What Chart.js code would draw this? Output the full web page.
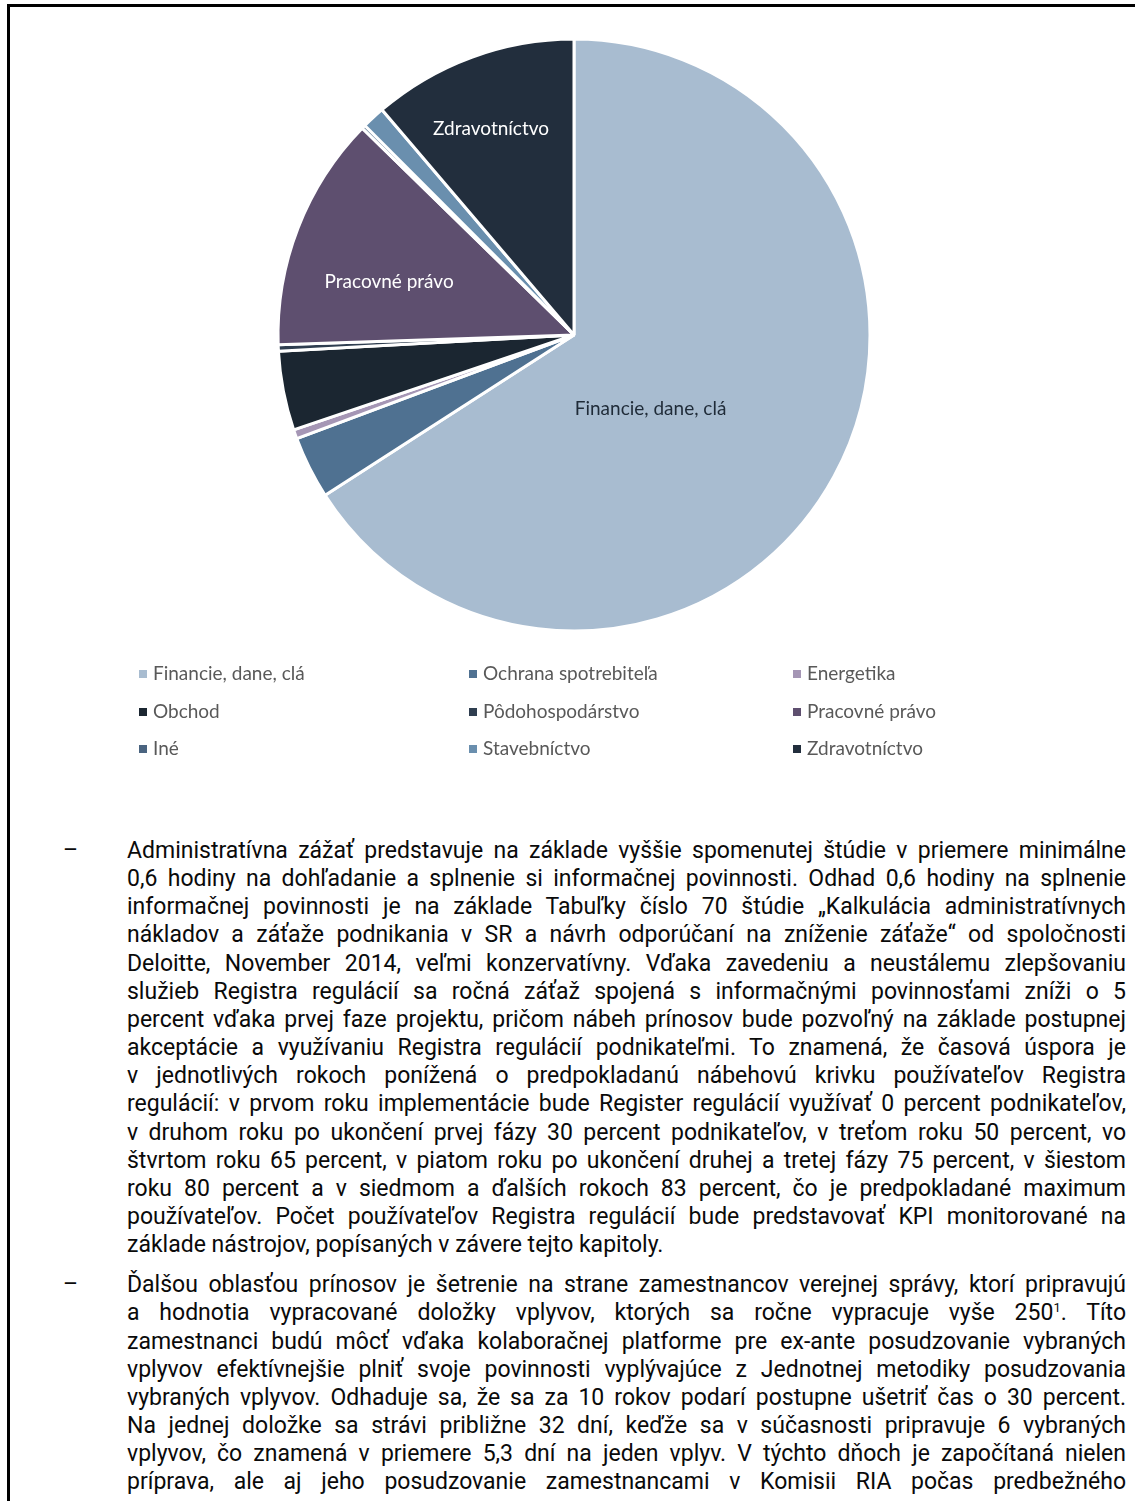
<!DOCTYPE html>
<html>
<head>
<meta charset="utf-8">
<script src="https://cdn.jsdelivr.net/npm/chart.js@4/dist/chart.umd.min.js"></script>
<style>
  html, body { margin: 0; padding: 0; background: #fff; }
  body { width: 1135px; height: 1501px; overflow: hidden; position: relative; }
  #frame { position: absolute; left: 7px; top: 4px; width: 1200px; height: 1600px;
           border-top: 3px solid #000; border-left: 3px solid #000; }
  #chartBox { position: absolute; left: 0; top: 0; width: 1135px; height: 670px; }
  #legend { position: absolute; left: 0; top: 654px; width: 1135px; height: 110px;
            font-family: Lato, sans-serif; font-size: 19px; color: #595959; }
  .lg { position: absolute; white-space: nowrap; line-height: 22px; }
  .lg i { display: inline-block; width: 8px; height: 8px; margin-right: 6px; vertical-align: 2px; }
  #text { position: absolute; left: 127px; top: 837px; width: 999px;
          font-family: Roboto, sans-serif; font-size: 23px; line-height: 28.15px; color: #0a0a0a; }
  #text p { margin: 0 0 11.9px 0; position: relative; }
  #text p::before { content: "–"; position: absolute; left: -64px; top: 0; }
  .ln { display: block; text-align: justify; text-align-last: justify; white-space: nowrap; }
  .ln.last { text-align-last: left; }
  sup { font-size: 13px; line-height: 0; vertical-align: 8px; }
</style>
</head>
<body>
<div id="frame"></div>
<div id="chartBox"><canvas id="myChart"></canvas></div>
<div id="legend"></div>
<div id="text">
<p>
<span class="ln">Administratívna zážať predstavuje na základe vyššie spomenutej štúdie v priemere minimálne</span>
<span class="ln">0,6 hodiny na dohľadanie a splnenie si informačnej povinnosti. Odhad 0,6 hodiny na splnenie</span>
<span class="ln">informačnej povinnosti je na základe Tabuľky číslo 70 štúdie „Kalkulácia administratívnych</span>
<span class="ln">nákladov a záťaže podnikania v SR a návrh odporúčaní na zníženie záťaže“ od spoločnosti</span>
<span class="ln">Deloitte, November 2014, veľmi konzervatívny. Vďaka zavedeniu a neustálemu zlepšovaniu</span>
<span class="ln">služieb Registra regulácií sa ročná záťaž spojená s informačnými povinnosťami zníži o 5</span>
<span class="ln">percent vďaka prvej faze projektu, pričom nábeh prínosov bude pozvoľný na základe postupnej</span>
<span class="ln">akceptácie a využívaniu Registra regulácií podnikateľmi. To znamená, že časová úspora je</span>
<span class="ln">v jednotlivých rokoch ponížená o predpokladanú nábehovú krivku používateľov Registra</span>
<span class="ln">regulácií: v prvom roku implementácie bude Register regulácií využívať 0 percent podnikateľov,</span>
<span class="ln">v druhom roku po ukončení prvej fázy 30 percent podnikateľov, v treťom roku 50 percent, vo</span>
<span class="ln">štvrtom roku 65 percent, v piatom roku po ukončení druhej a tretej fázy 75 percent, v šiestom</span>
<span class="ln">roku 80 percent a v siedmom a ďalších rokoch 83 percent, čo je predpokladané maximum</span>
<span class="ln">používateľov. Počet používateľov Registra regulácií bude predstavovať KPI monitorované na</span>
<span class="ln last">základe nástrojov, popísaných v závere tejto kapitoly.</span>
</p>
<p>
<span class="ln">Ďalšou oblasťou prínosov je šetrenie na strane zamestnancov verejnej správy, ktorí pripravujú</span>
<span class="ln">a hodnotia vypracované doložky vplyvov, ktorých sa ročne vypracuje vyše 250<sup>1</sup>. Títo</span>
<span class="ln">zamestnanci budú môcť vďaka kolaboračnej platforme pre ex-ante posudzovanie vybraných</span>
<span class="ln">vplyvov efektívnejšie plniť svoje povinnosti vyplývajúce z Jednotnej metodiky posudzovania</span>
<span class="ln">vybraných vplyvov. Odhaduje sa, že sa za 10 rokov podarí postupne ušetriť čas o 30 percent.</span>
<span class="ln">Na jednej doložke sa strávi približne 32 dní, keďže sa v súčasnosti pripravuje 6 vybraných</span>
<span class="ln">vplyvov, čo znamená v priemere 5,3 dní na jeden vplyv. V týchto dňoch je započítaná nielen</span>
<span class="ln">príprava, ale aj jeho posudzovanie zamestnancami v Komisii RIA počas predbežného</span>
</p>
</div>

<script>
// oblasti a ich podiel (v %)
var labels = ['Financie, dane, clá', 'Ochrana spotrebiteľa', 'Energetika',
              'Obchod', 'Pôdohospodárstvo', 'Pracovné právo',
              'Iné', 'Stavebníctvo', 'Zdravotníctvo'];
var shares = [65.7, 3.4, 0.5, 4.3, 0.35, 12.8, 0.2, 1.25, 11.2];
var colors = ['#a8bcd0', '#4f7191', '#a596b5', '#1b2631', '#2f3e50',
              '#5e4f6f', '#4a6480', '#6a8fae', '#222e3d'];
// ktore vysece maju popis v grafe
var shownLabels = ['Financie, dane, clá', 'Pracovné právo', 'Zdravotníctvo'];

// popisy vysekov: [posun uhla v radianoch, podiel polomeru, farba]
var labelPos = {
  'Financie, dane, clá': [0.27, 0.36, '#1f2b38'],
  'Pracovné právo': [-0.09, 0.65, '#ffffff'],
  'Zdravotníctvo': [-0.03, 0.75, '#ffffff']
};

var sliceLabels = {
  id: 'sliceLabels',
  afterDatasetsDraw: function(chart) {
    var ctx = chart.ctx;
    var meta = chart.getDatasetMeta(0);
    ctx.save();
    ctx.font = '19px Lato, sans-serif';
    ctx.textAlign = 'center';
    ctx.textBaseline = 'middle';
    for (var i = 0; i < labels.length; i++) {
      if (shownLabels.indexOf(labels[i]) < 0) continue;
      var arc = meta.data[i];
      var p = labelPos[labels[i]];
      var mid = (arc.startAngle + arc.endAngle) / 2 + p[0];
      var r = arc.outerRadius * p[1];
      ctx.fillStyle = p[2];
      ctx.fillText(labels[i], arc.x + Math.cos(mid) * r, arc.y + Math.sin(mid) * r);
    }
    ctx.restore();
  }
};

function makeLegend() {
  var box = document.getElementById('legend');
  var colX = [139, 469, 793];
  var rowY = [8, 46, 83];
  for (var i = 0; i < labels.length; i++) {
    var d = document.createElement('div');
    d.className = 'lg';
    d.style.left = colX[i % 3] + 'px';
    d.style.top = rowY[Math.floor(i / 3)] + 'px';
    d.innerHTML = '<i style="background:' + colors[i] + '"></i>' + labels[i];
    box.appendChild(d);
  }
}

function makeChart() {
  var ctx = document.getElementById('myChart').getContext('2d');
  var myChart = new Chart(ctx, {
    type: 'pie',
    data: {
      labels: labels,
      datasets: [{
        data: shares,
        backgroundColor: colors,
        borderColor: '#ffffff',
        borderWidth: 3
      }]
    },
    options: {
      responsive: false,
      animation: false,
      radius: 296,
      layout: { padding: { left: 13, top: 0, right: 0, bottom: 0 } },
      plugins: {
        legend: { display: false },
        tooltip: { enabled: false }
      }
    },
    plugins: [sliceLabels]
  });
}

var cv = document.getElementById('myChart');
cv.width = 1135;
cv.height = 670;
makeChart();
makeLegend();
</script>
</body>
</html>
